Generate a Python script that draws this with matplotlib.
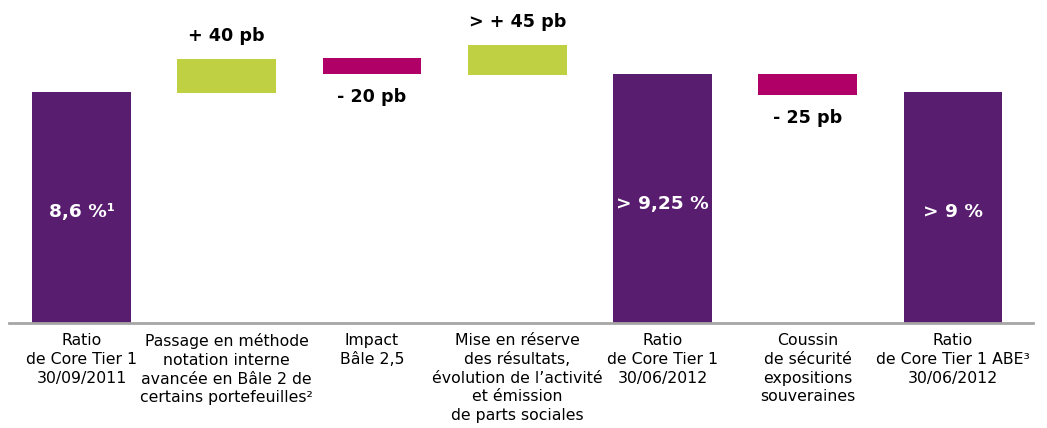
import matplotlib
matplotlib.use("Agg")
import matplotlib.pyplot as plt
import numpy as np

plt.rcParams["font.family"] = ["DejaVu Sans"]

categories = [
    "Ratio\nde Core Tier 1\n30/09/2011",
    "Passage en méthode\nnotation interne\navancée en Bâle 2 de\ncertains portefeuilles²",
    "Impact\nBâle 2,5",
    "Mise en réserve\ndes résultats,\névolution de l’activité\net émission\nde parts sociales",
    "Ratio\nde Core Tier 1\n30/06/2012",
    "Coussin\nde sécurité\nexpositions\nsouveraines",
    "Ratio\nde Core Tier 1 ABE³\n30/06/2012",
]
# schematic floating bars (values in %, as drawn)
bottoms = [0, 8.56, 9.27, 9.23, 0, 8.49, 0]
tops = [8.6, 9.83, 9.87, 10.35, 9.27, 9.27, 8.6]
kinds = ["total", "up", "down", "up", "total", "down", "total"]
value_labels = ["8,6 %¹", "+ 40 pb", "- 20 pb", "> + 45 pb", "> 9,25 %", "- 25 pb", "> 9 %"]

colors = {"total": "#581d6f", "up": "#bfd142", "down": "#b00068"}

fig = plt.figure(figsize=(10.47, 4.28), dpi=100)
ax = fig.add_axes([0.00845, 105 / 428, 0.978, 323 / 428])

x = np.arange(len(categories))
heights = np.array(tops) - np.array(bottoms)
ax.bar(x, heights, bottom=bottoms, width=0.68,
       color=[colors[k] for k in kinds], zorder=2)

for i, k in enumerate(kinds):
    if k == "total":
        ax.text(x[i], tops[i] * 0.48, value_labels[i], ha="center", va="center",
                color="white", fontsize=13.3, fontweight="bold")
    elif k == "up":
        ax.annotate(value_labels[i], (x[i], tops[i]), xytext=(0, 16.5),
                    textcoords="offset points", ha="center", va="center",
                    fontsize=12.6, fontweight="bold", color="black")
    else:
        ax.annotate(value_labels[i], (x[i], bottoms[i]), xytext=(0, -16.5),
                    textcoords="offset points", ha="center", va="center",
                    fontsize=12.6, fontweight="bold", color="black")

ax.set_xlim(-0.5, 6.55)
ax.set_ylim(0, 12.03)
ax.set_yticks([])
ax.set_xticks(x)
ax.set_xticklabels(categories, fontsize=11.3, linespacing=1.3, va="top")
ax.tick_params(axis="x", length=0, pad=7.5)
for s in ["top", "right", "left"]:
    ax.spines[s].set_visible(False)
ax.spines["bottom"].set_color("#a6a6a6")
ax.spines["bottom"].set_linewidth(2)

fig.savefig("out.png", dpi=100)
